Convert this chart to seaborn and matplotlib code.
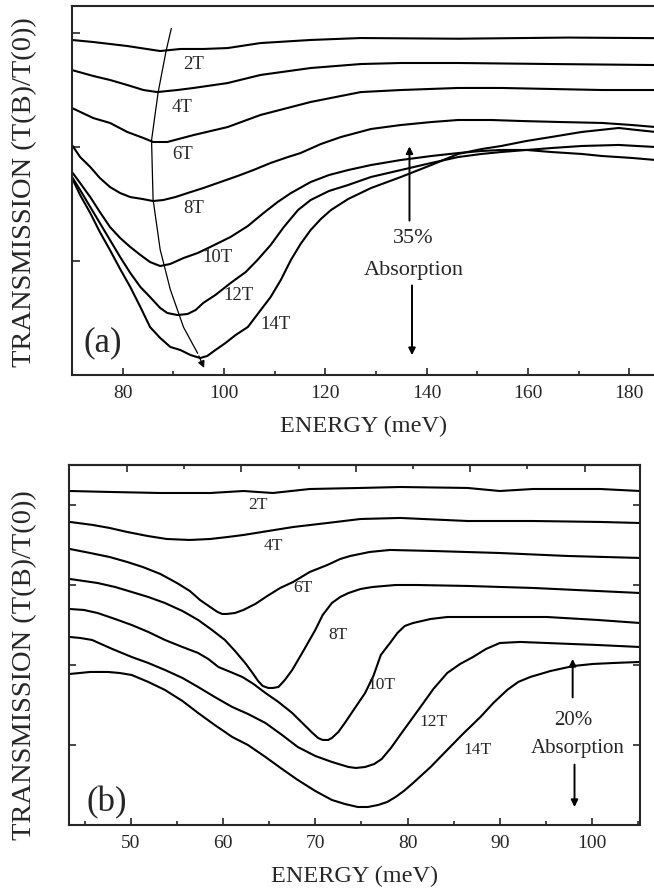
import numpy as np
import pandas as pd
import matplotlib
matplotlib.use("Agg")
import matplotlib.pyplot as plt
import seaborn as sns

# ---------------- Panel (a) data: energy (meV) / transmission (offset units) ----------------
a_2T_E = [70.0, 74.2, 80.9, 87.4, 91.4, 95.9, 100.7, 107.2, 117.1, 127.0, 146.2, 167.9, 185.2]
a_2T_T = [2.939, 2.921, 2.886, 2.842, 2.860, 2.860, 2.868, 2.912, 2.939, 2.956, 2.950, 2.960, 2.955]

a_4T_E = [70.0, 74.2, 77.5, 80.9, 84.1, 86.8, 90.8, 94.0, 100.7, 107.2, 117.1, 127.0, 134.9, 146.2, 164.6, 185.2]
a_4T_T = [2.675, 2.623, 2.588, 2.544, 2.500, 2.482, 2.500, 2.518, 2.561, 2.632, 2.693, 2.728, 2.737, 2.737, 2.728, 2.719]

a_6T_E = [70.0, 74.2, 77.5, 80.9, 84.1, 86.0, 88.8, 94.0, 100.7, 107.2, 117.1, 127.0, 134.9, 146.2, 154.7, 164.6, 174.6, 185.2]
a_6T_T = [2.342, 2.254, 2.211, 2.132, 2.079, 2.044, 2.044, 2.105, 2.175, 2.281, 2.395, 2.482, 2.500, 2.518, 2.518, 2.509, 2.500, 2.500]

a_8T_E = [70.0, 71.6, 73.6, 75.5, 77.5, 79.5, 81.5, 83.9, 86.0, 88.0, 90.4, 92.8, 95.9, 99.3, 102.7, 105.8, 109.2,
          112.6, 115.1, 119.1, 123.1, 129.0, 134.9, 140.9, 146.2, 152.7, 158.7, 166.6, 174.6, 180.5, 185.2]
a_8T_T = [2.018, 1.912, 1.825, 1.728, 1.649, 1.596, 1.561, 1.544, 1.526, 1.535, 1.561, 1.596, 1.640, 1.693, 1.746, 1.798, 1.860,
          1.912, 1.947, 2.026, 2.088, 2.158, 2.193, 2.219, 2.237, 2.237, 2.228, 2.219, 2.211, 2.193, 2.175]

a_10T_E = [70.0, 71.6, 73.6, 75.5, 77.5, 79.5, 81.5, 83.5, 85.4, 87.4, 89.4, 92.0, 94.8, 97.7, 101.3, 104.7, 107.8,
           110.6, 113.2, 117.1, 120.7, 124.5, 129.0, 134.9, 140.9, 146.2, 150.8, 154.7, 159.7, 164.6, 170.6, 174.6, 180.5, 185.2]
a_10T_T = [1.781, 1.684, 1.561, 1.430, 1.298, 1.202, 1.123, 1.053, 0.991, 0.956, 0.974, 1.026, 1.070, 1.132, 1.211, 1.307, 1.421,
           1.518, 1.596, 1.693, 1.754, 1.798, 1.842, 1.886, 1.921, 1.947, 1.965, 1.974, 1.974, 1.956, 1.939, 1.921, 1.904, 1.886]

a_12T_E = [70.0, 71.6, 73.6, 75.5, 77.5, 79.5, 81.5, 83.5, 85.4, 87.4, 88.8, 90.8, 92.8, 94.4, 95.9, 98.3, 101.3, 104.3,
           106.6, 109.2, 111.8, 114.6, 117.1, 120.7, 124.5, 129.0, 134.9, 140.9, 146.2, 150.8, 154.7, 159.7, 164.6, 170.6,
           177.9, 181.5, 185.2]
a_12T_T = [1.737, 1.623, 1.474, 1.333, 1.184, 1.035, 0.895, 0.772, 0.684, 0.588, 0.544, 0.526, 0.535, 0.570, 0.632, 0.702, 0.807, 0.904,
           1.009, 1.140, 1.298, 1.447, 1.535, 1.614, 1.667, 1.737, 1.798, 1.860, 1.912, 1.939, 1.956, 1.974, 1.991, 2.009,
           2.018, 2.009, 2.000]

a_14T_E = [70.0, 71.6, 73.6, 75.5, 77.5, 79.5, 81.5, 83.5, 85.4, 87.4, 89.4, 91.4, 93.4, 95.3, 96.7, 98.3, 100.3, 102.3,
           104.7, 106.8, 109.2, 111.2, 113.2, 115.1, 117.1, 119.1, 121.1, 124.5, 129.0, 134.9, 140.9, 146.2, 150.8, 154.7,
           159.7, 164.6, 170.6, 177.9, 181.5, 185.2]
a_14T_T = [1.728, 1.579, 1.421, 1.254, 1.096, 0.930, 0.772, 0.596, 0.421, 0.325, 0.246, 0.219, 0.175, 0.149, 0.167, 0.219, 0.281, 0.351,
           0.421, 0.544, 0.684, 0.833, 1.009, 1.149, 1.272, 1.368, 1.447, 1.544, 1.640, 1.737, 1.842, 1.939, 1.982, 2.009,
           2.053, 2.088, 2.132, 2.167, 2.149, 2.132]

a_fields = ["2T", "4T", "6T", "8T", "10T", "12T", "14T"]
a_label_E = [94.0, 91.8, 91.8, 94.0, 98.7, 102.9, 110.2]
a_label_T = [2.72, 2.35, 1.93, 1.46, 1.03, 0.70, 0.44]

# arc through the minima (guide arrow) in panel (a)
a_arc_E = [89.6, 88.6, 87.0, 85.7, 86.0, 87.4, 89.4, 92.0, 94.8, 96.3]
a_arc_T = [3.04, 2.85, 2.48, 2.06, 1.54, 1.10, 0.75, 0.42, 0.19, 0.04]

# ---------------- Panel (b) data ----------------
b_2T_E = [43.4, 47.7, 53.2, 58.6, 62.2, 65.4, 69.4, 74.9, 79.2, 86.5, 90.0, 93.6, 100.9, 105.2]
b_2T_T = [4.175, 4.163, 4.150, 4.150, 4.175, 4.150, 4.200, 4.213, 4.225, 4.213, 4.175, 4.200, 4.200, 4.175]

b_4T_E = [43.4, 45.9, 47.7, 49.6, 51.8, 53.9, 56.4, 58.6, 60.5, 62.2, 64.9, 67.6, 71.3, 74.9, 79.2, 86.5, 93.6, 100.9, 105.2]
b_4T_T = [3.788, 3.750, 3.713, 3.663, 3.613, 3.575, 3.563, 3.575, 3.600, 3.625, 3.675, 3.725, 3.775, 3.825, 3.838, 3.800, 3.800, 3.788, 3.775]

b_6T_E = [43.4, 45.6, 47.7, 49.6, 51.3, 53.2, 55.0, 56.4, 57.5, 58.6, 59.4, 59.9, 60.4, 61.3, 62.2, 63.5, 64.8, 66.2,
          67.6, 69.4, 71.3, 72.7, 73.8, 75.9, 78.1, 82.8, 90.0, 97.3, 105.2]
b_6T_T = [3.450, 3.400, 3.350, 3.288, 3.225, 3.138, 3.025, 2.925, 2.813, 2.725, 2.663, 2.638, 2.638, 2.650, 2.688, 2.763, 2.863, 2.963,
          3.038, 3.163, 3.250, 3.325, 3.363, 3.413, 3.438, 3.425, 3.400, 3.363, 3.338]

b_8T_E = [43.4, 44.9, 46.4, 48.3, 50.1, 51.9, 53.7, 55.6, 57.3, 58.8, 60.2, 61.3, 62.4, 63.2, 63.8, 64.3, 64.9, 65.4,
          66.0, 66.7, 67.5, 68.7, 70.0, 70.8, 71.8, 72.7, 73.6, 74.9, 76.2, 78.7, 81.0, 86.5, 93.6, 100.6, 105.2]
b_8T_T = [3.075, 3.050, 3.025, 2.975, 2.913, 2.850, 2.775, 2.675, 2.563, 2.438, 2.313, 2.175, 2.025, 1.900, 1.800, 1.738, 1.713, 1.713,
          1.725, 1.813, 1.938, 2.175, 2.438, 2.625, 2.775, 2.850, 2.900, 2.950, 2.975, 3.000, 3.000, 2.988, 2.963, 2.925, 2.900]

b_10T_E = [43.4, 44.9, 46.4, 48.3, 50.1, 51.9, 53.7, 55.6, 57.3, 58.4, 59.5, 60.8, 62.1, 63.3, 64.6, 66.0, 67.5, 68.6,
           69.7, 70.3, 70.8, 71.4, 71.8, 72.5, 73.2, 74.3, 75.4, 76.3, 77.1, 78.1, 78.9, 79.7, 80.6, 82.5, 84.3, 89.7,
           95.1, 100.6, 105.2]
b_10T_T = [2.700, 2.688, 2.650, 2.575, 2.500, 2.413, 2.313, 2.225, 2.150, 2.075, 1.975, 1.913, 1.850, 1.763, 1.650, 1.538, 1.400, 1.275,
           1.150, 1.088, 1.063, 1.063, 1.088, 1.163, 1.275, 1.463, 1.650, 1.863, 2.125, 2.275, 2.400, 2.488, 2.525, 2.575, 2.600, 2.600,
           2.600, 2.563, 2.525]

b_12T_E = [43.4, 44.5, 45.8, 48.0, 50.1, 51.9, 53.7, 55.6, 57.3, 59.1, 61.0, 62.7, 64.6, 66.4, 68.1, 70.0, 71.8, 73.6,
           74.4, 75.4, 76.4, 77.2, 78.2, 79.2, 80.3, 81.4, 82.8, 84.3, 85.7, 87.1, 88.5, 90.0, 92.2, 95.1, 100.6, 105.2]
b_12T_T = [2.350, 2.338, 2.313, 2.200, 2.100, 2.025, 1.938, 1.838, 1.725, 1.600, 1.475, 1.388, 1.275, 1.125, 0.975, 0.863, 0.788, 0.725,
           0.713, 0.725, 0.763, 0.825, 0.963, 1.125, 1.300, 1.475, 1.700, 1.900, 2.013, 2.100, 2.200, 2.275, 2.288, 2.275, 2.250, 2.225]

b_14T_E = [43.4, 45.6, 47.5, 48.8, 50.1, 51.9, 53.7, 55.6, 57.3, 59.1, 61.0, 62.7, 64.6, 66.4, 68.1, 70.0, 71.8, 73.2,
           74.6, 75.7, 76.8, 77.8, 78.7, 79.6, 80.6, 82.5, 84.3, 86.0, 87.9, 89.3, 90.8, 92.0, 93.3, 95.5, 98.0, 100.1,
           102.3, 105.2]
b_14T_T = [1.888, 1.913, 1.913, 1.900, 1.875, 1.788, 1.688, 1.550, 1.400, 1.250, 1.100, 1.000, 0.850, 0.700, 0.563, 0.425, 0.313, 0.263,
           0.225, 0.225, 0.250, 0.288, 0.350, 0.425, 0.525, 0.725, 0.938, 1.138, 1.350, 1.525, 1.688, 1.788, 1.850, 1.925, 1.988, 2.013,
           2.025, 2.038]

b_fields = ["2T", "4T", "6T", "8T", "10T", "12T", "14T"]
b_label_E = [63.8, 65.4, 68.7, 72.5, 77.2, 82.8, 87.6]
b_label_T = [4.00, 3.49, 2.96, 2.38, 1.75, 1.29, 0.94]

a_xticks = [80, 100, 120, 140, 160, 180]
b_xticks = [50, 60, 70, 80, 90, 100]
b_top_cm = [400, 500, 600, 700, 800]   # wavenumber ticks (cm^-1) on top axis of (b)

# ---------------- build long tables ----------------
def long_table(fields, Es, Ts):
    rows = []
    for f, e, t in zip(fields, Es, Ts):
        rows.append(pd.DataFrame({"E": e, "T": t, "B": f}))
    return pd.concat(rows, ignore_index=True)

df_a = long_table(a_fields,
                  [a_2T_E, a_4T_E, a_6T_E, a_8T_E, a_10T_E, a_12T_E, a_14T_E],
                  [a_2T_T, a_4T_T, a_6T_T, a_8T_T, a_10T_T, a_12T_T, a_14T_T])
df_b = long_table(b_fields,
                  [b_2T_E, b_4T_E, b_6T_E, b_8T_E, b_10T_E, b_12T_E, b_14T_E],
                  [b_2T_T, b_4T_T, b_6T_T, b_8T_T, b_10T_T, b_12T_T, b_14T_T])

sns.set_style("ticks")
plt.rcParams["font.family"] = ["Liberation Serif", "DejaVu Serif"]
plt.rcParams["axes.linewidth"] = 1.5

fig = plt.figure(figsize=(6.54, 8.88), dpi=100)
ax_a = fig.add_axes([72/654, 1-375/888, 584/654, 369/888])
ax_b = fig.add_axes([69/654, 1-825/888, 571/654, 360/888])

LW = 1.5
for ax, df in ((ax_a, df_a), (ax_b, df_b)):
    sns.lineplot(data=df, x="E", y="T", units="B", estimator=None, sort=False,
                 color="black", linewidth=LW, ax=ax, legend=False)

YLABEL = "TRANSMISSION (T(B)/T(0))"

# ----- panel (a) styling -----
ax_a.set_xlim(70, 185.25)
ax_a.set_ylim(0, 3.237)
ax_a.set_xticks(a_xticks)
ax_a.set_xticks(np.arange(70, 186, 10), minor=True)
ax_a.set_yticks([1, 2, 3])
ax_a.set_yticklabels([])
ax_a.tick_params(axis="x", which="major", direction="in", length=5, width=1.2, labelsize=14, pad=7)
ax_a.tick_params(axis="x", which="minor", direction="in", length=3, width=1.2)
ax_a.tick_params(axis="y", which="major", direction="in", length=6, width=1.2)
ax_a.spines["right"].set_visible(False)
ax_a.set_xlabel("ENERGY (meV)", fontsize=17.5, labelpad=10)
ax_a.set_ylabel(YLABEL, fontsize=20.5)
ax_a.yaxis.set_label_coords(-0.060, 0.495)

for f, e, t in zip(a_fields, a_label_E, a_label_T):
    ax_a.text(e, t, f, fontsize=13.5, ha="center", va="center")
ax_a.text(76.1, 0.28, "(a)", fontsize=25, ha="center", va="center")
ax_a.text(137.3, 1.20, "35%", fontsize=16, ha="center", va="center")
ax_a.text(137.5, 0.92, "Absorption", fontsize=16, ha="center", va="center")
ax_a.annotate("", xy=(136.6, 2.03), xytext=(136.6, 1.33),
              arrowprops=dict(arrowstyle="-|>", color="black", lw=1.4, mutation_scale=10))
ax_a.annotate("", xy=(137.1, 0.15), xytext=(137.1, 0.81),
              arrowprops=dict(arrowstyle="-|>", color="black", lw=1.4, mutation_scale=10))
ax_a.plot(a_arc_E[:-1], a_arc_T[:-1], color="black", lw=0.9)
ax_a.annotate("", xy=(a_arc_E[-1], a_arc_T[-1]), xytext=(a_arc_E[-2], a_arc_T[-2]),
              arrowprops=dict(arrowstyle="-|>", color="black", lw=0.9, mutation_scale=10))

# ----- panel (b) styling -----
ax_b.set_xlim(43.3, 105.2)
ax_b.set_ylim(0, 4.5)
ax_b.set_xticks(b_xticks)
ax_b.set_xticks(np.arange(45, 106, 5), minor=True)
ax_b.set_yticks([1, 2, 3, 4])
ax_b.set_yticklabels([])
ax_b.tick_params(axis="x", which="major", direction="in", length=5, width=1.2, labelsize=14, pad=7)
ax_b.tick_params(axis="x", which="minor", direction="in", length=3, width=1.2)
ax_b.tick_params(axis="y", which="major", direction="in", length=5, width=1.2, right=True)
ax_b.set_xlabel("ENERGY (meV)", fontsize=17.5, labelpad=10)
ax_b.set_ylabel(YLABEL, fontsize=20.5)
ax_b.yaxis.set_label_coords(-0.056, 0.444)

sec = ax_b.secondary_xaxis("top", functions=(lambda e: e * 8.0655, lambda c: c / 8.0655))
sec.set_xticks(b_top_cm)
sec.set_xticks([450, 550, 650, 750], minor=True)
sec.set_xticklabels([])
sec.tick_params(axis="x", which="major", direction="in", length=5, width=1.2)
sec.tick_params(axis="x", which="minor", direction="in", length=3, width=1.2)

for f, e, t in zip(b_fields, b_label_E, b_label_T):
    ax_b.text(e, t, f, fontsize=12.5, ha="center", va="center")
ax_b.text(47.4, 0.28, "(b)", fontsize=25, ha="center", va="center")
ax_b.text(98.0, 1.31, "20%", fontsize=15, ha="center", va="center")
ax_b.text(98.4, 0.96, "Absorption", fontsize=15, ha="center", va="center")
ax_b.annotate("", xy=(97.9, 2.11), xytext=(97.9, 1.56),
              arrowprops=dict(arrowstyle="-|>", color="black", lw=1.4, mutation_scale=10))
ax_b.annotate("", xy=(98.1, 0.19), xytext=(98.1, 0.79),
              arrowprops=dict(arrowstyle="-|>", color="black", lw=1.4, mutation_scale=10))

fig.savefig("out.png", dpi=100)
